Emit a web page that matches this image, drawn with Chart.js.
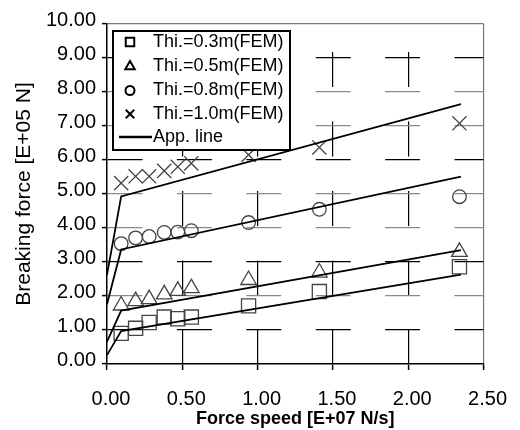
<!DOCTYPE html>
<html>
<head>
<meta charset="utf-8">
<script src="https://cdn.jsdelivr.net/npm/chart.js@4"></script>
<style>
    html, body { margin: 0; padding: 0; background: #fff; }
    #wrap { width: 520px; height: 430px; }
</style>
</head>
<body>
<div id="wrap"><canvas id="chart" width="520" height="430"></canvas></div>
<script>
// force speed [E+07 N/s] of the FEM runs
const speeds = [0.094, 0.19, 0.28, 0.38, 0.47, 0.56, 0.94, 1.41, 2.34];

// breaking force [E+05 N]
const thi03 = [0.90, 1.05, 1.22, 1.38, 1.33, 1.38, 1.71, 2.13, 2.86];
const thi05 = [1.72, 1.85, 1.91, 2.05, 2.15, 2.23, 2.47, 2.69, 3.30];
const thi08 = [3.54, 3.71, 3.75, 3.87, 3.88, 3.92, 4.16, 4.55, 4.92];
const thi10 = [5.32, 5.52, 5.52, 5.68, 5.80, 5.90, 6.15, 6.37, 7.08];

// approximation lines (bilinear)
const appX = [0, 0.094, 2.35];
const app03 = [0.26, 0.97, 2.63];
const app05 = [0.66, 1.57, 3.35];
const app08 = [1.76, 3.37, 5.51];
const app10 = [2.62, 4.93, 7.64];

const seriesLabels = ["Thi.=0.3m(FEM)", "Thi.=0.5m(FEM)", "Thi.=0.8m(FEM)", "Thi.=1.0m(FEM)"];
const lineLabel = "App. line";

const xTicks = [0, 0.5, 1.0, 1.5, 2.0, 2.5];
const yTicks = [0, 1, 2, 3, 4, 5, 6, 7, 8, 9, 10];

Chart.defaults.font.family = "'Liberation Sans', Arial, sans-serif";
Chart.defaults.color = "#000";

const MARK = "#444";

function pts(xs, ys) {
    return xs.map((x, i) => ({ x: x, y: ys[i] }));
}

function appLine(ys) {
    return {
        label: lineLabel,
        data: pts(appX, ys),
        showLine: true,
        borderColor: "#000",
        borderWidth: 1.8,
        pointRadius: 0,
        fill: false
    };
}

function marks(label, ys, style, r) {
    return {
        label: label,
        data: pts(speeds, ys),
        pointStyle: style,
        pointRadius: r,
        pointBorderColor: MARK,
        pointBackgroundColor: "rgba(0,0,0,0)",
        pointBorderWidth: 1.3,
        showLine: false
    };
}

// legend box drawn inside the plot, over the grid
const legendBox = {
    id: "legendBox",
    afterDatasetsDraw(chart) {
        const ctx = chart.ctx;
        const a = chart.chartArea;
        const left = a.left + 6, top = a.top + 7, w = 177, h = 119;
        ctx.save();
        ctx.fillStyle = "#fff";
        ctx.fillRect(left, top, w, h);
        ctx.lineWidth = 2;
        ctx.strokeStyle = "#000";
        ctx.strokeRect(left, top, w, h);

        ctx.font = "18px 'Liberation Sans', Arial, sans-serif";
        ctx.textBaseline = "middle";
        const rows = [11, 35.5, 59.5, 83];
        const styles = [["rect", 6], ["triangle", 5.5], ["circle", 4.5], ["crossRot", 6]];
        chart.data.datasets.filter(d => d.pointStyle).forEach((d, i) => {
            const y = top + rows[i];
            ctx.strokeStyle = "#000";
            ctx.fillStyle = "#fff";
            ctx.lineWidth = 2;
            Chart.helpers.drawPoint(ctx, {
                pointStyle: styles[i][0], radius: styles[i][1], rotation: 0, borderWidth: 2
            }, left + 17, y);
            ctx.fillStyle = "#000";
            ctx.fillText(d.label, left + 40, y);
        });
        const y = top + 106;
        ctx.beginPath();
        ctx.lineWidth = 2.5;
        ctx.moveTo(left + 6, y);
        ctx.lineTo(left + 39, y);
        ctx.stroke();
        ctx.fillStyle = "#000";
        ctx.fillText(lineLabel, left + 40, y);
        ctx.restore();
    }
};

const yBlack = [1, 3, 6, 9];

new Chart(document.getElementById("chart").getContext("2d"), {
    type: "scatter",
    data: {
        datasets: [
            appLine(app03), appLine(app05), appLine(app08), appLine(app10),
            marks(seriesLabels[0], thi03, "rect", 10),
            marks(seriesLabels[1], thi05, "triangle", 9),
            marks(seriesLabels[2], thi08, "circle", 6.8),
            marks(seriesLabels[3], thi10, "crossRot", 10)
        ]
    },
    options: {
        responsive: false,
        animation: false,
        layout: { padding: { top: 24, right: 25, left: 0, bottom: 0 } },
        plugins: { legend: { display: false }, tooltip: { enabled: false } },
        scales: {
            x: {
                type: "linear",
                min: 0,
                max: 2.5,
                afterFit: s => { s.height = 66; },
                afterBuildTicks: s => { s.ticks = xTicks.map(v => ({ value: v })); },
                ticks: {
                    callback: v => Number(v).toFixed(2),
                    font: { size: 20 },
                    padding: 17,
                    labelOffset: 4,
                    autoSkip: false,
                    maxRotation: 0
                },
                grid: {
                    color: c => c.tick && c.tick.value === 0 ? "rgba(0,0,0,0)" : (c.tick && c.tick.value === 2.5 ? "#777" : "#000"),
                    lineWidth: 1.2,
                    tickLength: 6,
                    tickColor: "#000",
                    tickWidth: 1.5,
                    tickBorderDash: []
                },
                border: {
                    color: "#000",
                    width: 1.5,
                    dash: c => c.tick && c.tick.value > 0 && c.tick.value < 2.5 ? [35, 34.5] : [],
                    dashOffset: 41.5
                },
                title: {
                    display: true,
                    text: "Force speed [E+07 N/s]",
                    font: { size: 18, weight: "bold" },
                    padding: { top: 0, bottom: 0 }
                }
            },
            y: {
                type: "linear",
                min: 0,
                max: 10,
                afterFit: s => { s.width = 107; },
                afterBuildTicks: s => { s.ticks = yTicks.map(v => ({ value: v })); },
                ticks: {
                    callback: v => Number(v).toFixed(2),
                    font: { size: 20 },
                    padding: 6,
                    labelOffset: -4,
                    autoSkip: false
                },
                grid: {
                    color: c => {
                        if (!c.tick) return "#000";
                        const v = c.tick.value;
                        if (v === 0) return "rgba(0,0,0,0)";
                        if (v === 10) return "#777";
                        return yBlack.includes(v) ? "#000" : "#8a8a8a";
                    },
                    lineWidth: 1.2,
                    tickLength: 5,
                    tickColor: "#000",
                    tickWidth: 1.5,
                    tickBorderDash: []
                },
                border: {
                    color: "#000",
                    width: 1.5,
                    dash: c => c.tick && c.tick.value > 0 && c.tick.value < 10 ? [35, 34.4] : [],
                    dashOffset: 0
                },
                title: {
                    display: true,
                    text: "Breaking force [E+05 N]",
                    font: { size: 21 },
                    padding: { top: 12, bottom: 0 }
                }
            }
        }
    },
    plugins: [legendBox]
});
</script>
</body>
</html>
